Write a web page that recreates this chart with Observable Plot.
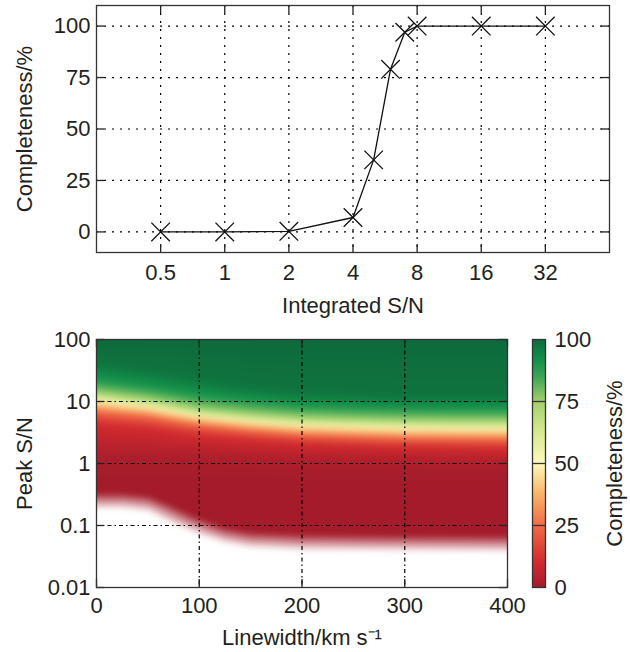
<!DOCTYPE html>
<html>
<head>
<meta charset="utf-8">
<script src="https://cdn.jsdelivr.net/npm/d3@7"></script>
<script src="https://cdn.jsdelivr.net/npm/@observablehq/plot@0.6"></script>
<style>
  html, body { margin: 0; padding: 0; background: #fff; }
  #chart { position: relative; width: 630px; height: 652px; overflow: hidden; }
  #chart > svg { position: absolute; }
</style>
</head>
<body>
<div id="chart"></div>
<script>
// ---------- Data: top panel ----------
const sigTicks = [0.5, 1, 2, 4, 8, 16, 32];
const pctTicks = [0, 25, 50, 75, 100];
const integratedSN = [0.5, 1, 2, 4, 5, 6, 7, 8, 16, 32];
const completeness = [0, 0, 0.3, 7, 35, 79, 97, 100, 100, 100];
const topXLabel = "Integrated S/N";
const topYLabel = "Completeness/%";

// ---------- Data: bottom panel ----------
const lwTicks = [0, 100, 200, 300, 400];
const peakTicks = [0.01, 0.1, 1, 10, 100];
const botXLabel = "Linewidth/km s\u207B\u00B9";
const botYLabel = "Peak S/N";
const barLabel = "Completeness/%";

// completeness (%) levels and the peak S/N where each level is reached, per linewidth
const linewidths = [0, 50, 100, 150, 200, 250, 300, 350, 400];
const completenessLevels = [0, 0, 2, 10, 25, 50, 75, 90, 98, 100];
const levelPeakSN = [
  [0.01, 0.6, 1.3, 4.3, 7.0, 10.0, 14.0, 22, 42, 100],  // 0 km/s
  [0.01, 0.6, 1.3, 3.7, 5.8, 8.0, 11.0, 17, 32, 100],   // 50
  [0.01, 0.6, 1.3, 2.8, 4.2, 5.6, 7.6, 12.5, 23, 100],  // 100
  [0.01, 0.55, 1.2, 2.4, 3.4, 4.6, 6.3, 10, 17, 100],   // 150
  [0.01, 0.5, 1.15, 2.1, 2.9, 4.0, 5.5, 8.5, 14, 100],  // 200
  [0.01, 0.5, 1.1, 1.95, 2.7, 3.8, 5.2, 8.0, 13, 100],  // 250
  [0.01, 0.5, 1.05, 1.85, 2.55, 3.6, 5.0, 7.6, 12, 100],// 300
  [0.01, 0.5, 1.0, 1.8, 2.5, 3.55, 4.9, 7.5, 12, 100],  // 350
  [0.01, 0.5, 1.0, 1.75, 2.45, 3.5, 4.9, 7.5, 12, 100]  // 400
];
// coverage edge (no data below): fully white below, fully coloured above
const edgeLinewidths = [0, 25, 50, 75, 100, 125, 150, 200, 300, 400];
const whiteBelowSN = [0.18, 0.18, 0.16, 0.10, 0.068, 0.05, 0.042, 0.038, 0.037, 0.036];
const colourAboveSN = [0.34, 0.34, 0.31, 0.21, 0.135, 0.095, 0.08, 0.074, 0.071, 0.07];

// colour map
const colorStops = [0, 10, 25, 37.5, 50, 62.5, 75, 85, 92, 100];
const colorRange = ["#a41c2b", "#d22a2e", "#f16b46", "#fbb266", "#fff9bb", "#d7ea90", "#a2d16b", "#3ca556", "#12904a", "#0e6a3b"];

// ---------- Layout / style ----------
const font = "'Liberation Sans', Arial, Helvetica, sans-serif";
const ink = "#231f20";
const ML = 96;
const W1 = 630, H1 = 320, MR1 = 21, MT1 = 5, MB1 = 68;
const fw1 = W1 - ML - MR1, fh1 = H1 - MT1 - MB1;
const W2 = 630, H2 = 332, MR2 = 123, MT2 = 19, MB2 = 65;
const fw2 = W2 - ML - MR2, fh2 = H2 - MT2 - MB2;
const TL = 8; // inward tick length

const gridTop = {stroke: "#000", strokeOpacity: 1, strokeWidth: 1.2, strokeDasharray: "2,6"};
const gridBot = {stroke: "#000", strokeOpacity: 1, strokeWidth: 1.2, strokeDasharray: "4,3,1.5,3"};
const tickStyle = {stroke: "#222", strokeWidth: 1.3};
const baseStyle = {fontFamily: font, fontSize: "22px", color: ink, background: "transparent"};
const labelStyle = {text: d => d, fontSize: 22, fill: ink, textAnchor: "middle", lineAnchor: "middle"};

const topData = integratedSN.map((s, i) => ({s, c: completeness[i]}));

const topPlot = Plot.plot({
  width: W1, height: H1,
  marginLeft: ML, marginRight: MR1, marginTop: MT1, marginBottom: MB1,
  style: baseStyle,
  x: {type: "log", base: 2, domain: [0.25, 64]},
  y: {domain: [-10, 110]},
  marks: [
    Plot.gridX(sigTicks, gridTop),
    Plot.gridY(pctTicks, gridTop),
    Plot.line(topData, {x: "s", y: "c", stroke: "#111", strokeWidth: 1.3}),
    Plot.dot(topData, {x: "s", y: "c", symbol: "times", r: 8.5, stroke: "#111", strokeWidth: 1.3}),
    Plot.tickX(sigTicks, {x: d => d, insetBottom: fh1 - TL, ...tickStyle}),
    Plot.tickX(sigTicks, {x: d => d, insetTop: fh1 - TL, ...tickStyle}),
    Plot.tickY(pctTicks, {y: d => d, insetRight: fw1 - TL, ...tickStyle}),
    Plot.tickY(pctTicks, {y: d => d, insetLeft: fw1 - TL, ...tickStyle}),
    Plot.frame({stroke: "#333", strokeWidth: 1.3}),
    Plot.axisX(sigTicks, {tickSize: 0, tickPadding: 12, tickFormat: d => String(d), label: null, fontSize: 22, fill: ink}),
    Plot.axisY(pctTicks, {tickSize: 0, tickPadding: 6, tickFormat: d => String(d), label: null, fontSize: 22, fill: ink}),
    Plot.text([topXLabel], {...labelStyle, frameAnchor: "bottom", dy: 53}),
    Plot.text([topYLabel], {...labelStyle, frameAnchor: "left", dx: -72, rotate: -90})
  ]
});

const compRows = linewidths.flatMap((lw, i) =>
  completenessLevels.map((c, j) => ({lw, sn: levelPeakSN[i][j], c})));
const whiteRows = edgeLinewidths.flatMap((lw, i) => [
  {lw, sn: peakTicks[0], o: 1},
  {lw, sn: whiteBelowSN[i], o: 1},
  {lw, sn: colourAboveSN[i], o: 0},
  {lw, sn: peakTicks[peakTicks.length - 1], o: 0}
]);
const xDom = [lwTicks[0], lwTicks[lwTicks.length - 1]];
const yDom = [peakTicks[0], peakTicks[peakTicks.length - 1]];

const heatPlot = Plot.plot({
  width: W2, height: H2,
  marginLeft: ML, marginRight: MR2, marginTop: MT2, marginBottom: MB2,
  style: baseStyle,
  x: {domain: xDom},
  y: {type: "log", domain: yDom},
  color: {type: "linear", domain: colorStops, range: colorRange, interpolate: "rgb"},
  opacity: {domain: [0, 1], range: [0, 1]},
  marks: [
    Plot.raster(compRows, {x: "lw", y: "sn", fill: "c", interpolate: "barycentric",
      x1: xDom[0], x2: xDom[1], y1: yDom[0], y2: yDom[1], blur: 3}),
    Plot.raster(whiteRows, {x: "lw", y: "sn", fill: "white", fillOpacity: "o", interpolate: "barycentric",
      x1: xDom[0], x2: xDom[1], y1: yDom[0], y2: yDom[1], blur: 2}),
    Plot.gridX(lwTicks.slice(1, -1), gridBot),
    Plot.gridY(peakTicks.slice(1, -1), gridBot),
    Plot.tickX(lwTicks, {x: d => d, insetBottom: fh2 - TL, ...tickStyle}),
    Plot.tickX(lwTicks, {x: d => d, insetTop: fh2 - TL, ...tickStyle}),
    Plot.tickY(peakTicks, {y: d => d, insetRight: fw2 - TL, ...tickStyle}),
    Plot.tickY(peakTicks, {y: d => d, insetLeft: fw2 - TL, ...tickStyle}),
    Plot.frame({stroke: "#333", strokeWidth: 1.3}),
    Plot.axisX(lwTicks, {tickSize: 0, tickPadding: 10, tickFormat: d => String(d), label: null, fontSize: 22, fill: ink}),
    Plot.axisY(peakTicks, {tickSize: 0, tickPadding: 6, tickFormat: d => String(d), label: null, fontSize: 22, fill: ink}),
    Plot.text([botXLabel], {...labelStyle, frameAnchor: "bottom", dy: 50}),
    Plot.text([botYLabel], {...labelStyle, frameAnchor: "left", dx: -72, rotate: -90})
  ]
});

const BW = 110, BML = 12, BMR = 85;
const barPlot = Plot.plot({
  width: BW, height: H2,
  marginLeft: BML, marginRight: BMR, marginTop: MT2, marginBottom: MB2,
  style: baseStyle,
  x: {domain: [0, 1], axis: null},
  y: {domain: [pctTicks[0], pctTicks[pctTicks.length - 1]], axis: null},
  color: {type: "linear", domain: colorStops, range: colorRange, interpolate: "rgb"},
  marks: [
    Plot.raster({fill: (x, y) => y, x1: 0, x2: 1, y1: pctTicks[0], y2: pctTicks[pctTicks.length - 1]}),
    Plot.ruleY(pctTicks.slice(1, -1), {stroke: "#333", strokeWidth: 1.3}),
    Plot.frame({stroke: "#333", strokeWidth: 1.3}),
    Plot.axisY(pctTicks, {anchor: "right", tickSize: 0, tickPadding: 9, tickFormat: d => String(d), label: null, fontSize: 22, fill: ink}),
    Plot.text([barLabel], {...labelStyle, frameAnchor: "right", dx: 69, rotate: -90})
  ]
});

const chart = document.getElementById("chart");
topPlot.style.left = "0px"; topPlot.style.top = "0px";
heatPlot.style.left = "0px"; heatPlot.style.top = H1 + "px";
barPlot.style.left = (W2 - MR2 + 25 - BML) + "px"; barPlot.style.top = H1 + "px";
chart.appendChild(topPlot);
chart.appendChild(heatPlot);
chart.appendChild(barPlot);
</script>
</body>
</html>
